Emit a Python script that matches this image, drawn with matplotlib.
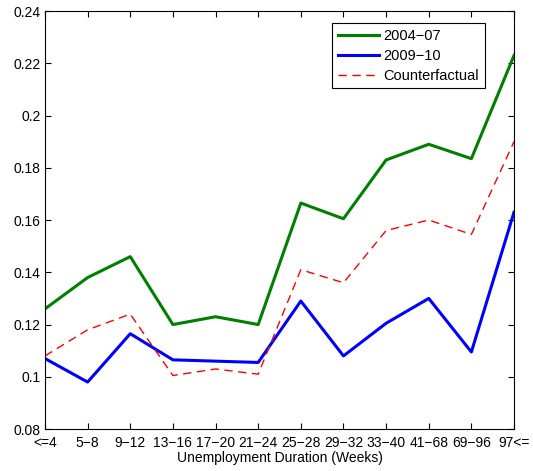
import matplotlib
matplotlib.use('Agg')
import matplotlib.pyplot as plt

plt.rcParams['font.family'] = ['Liberation Sans', 'DejaVu Sans']

# duration bins
labels = ['<=4', '5\u22128', '9\u221212', '13\u221216', '17\u221220', '21\u221224',
          '25\u221228', '29\u221232', '33\u221240', '41\u221268', '69\u221296', '97<=']

# hazard rates
pre = [0.126, 0.138, 0.146, 0.120, 0.123, 0.120, 0.1665, 0.1605, 0.183, 0.189, 0.1835, 0.223]
post = [0.107, 0.098, 0.1165, 0.1065, 0.106, 0.1055, 0.129, 0.108, 0.1205, 0.130, 0.1095, 0.163]
counter = [0.108, 0.118, 0.124, 0.1005, 0.103, 0.101, 0.141, 0.136, 0.156, 0.160, 0.1545, 0.190]

x = list(range(1, len(labels) + 1))

fig = plt.figure(figsize=(5.33, 4.71), dpi=100)
ax = fig.add_axes([0.0844, 0.089, 0.88, 0.8876])

ax.plot(x, pre, color='#007f00', lw=2.2, label='2004\u221207')
ax.plot(x, post, color='#0000ff', lw=2.2, label='2009\u221210')
ax.plot(x, counter, color='#ff0000', lw=1.0, dashes=(6, 4), label='Counterfactual')

ax.set_xlim(1, 12)
ax.set_ylim(0.08, 0.24)
ax.set_xticks(x)
ax.set_xticklabels(labels)
ax.set_yticks([0.08, 0.1, 0.12, 0.14, 0.16, 0.18, 0.2, 0.22, 0.24])
ax.set_yticklabels(['0.08', '0.1', '0.12', '0.14', '0.16', '0.18', '0.2', '0.22', '0.24'])
ax.tick_params(direction='in', top=True, right=True, labelsize=10, length=4, width=0.8, pad=3)
ax.tick_params(axis='x', pad=5)
for s in ax.spines.values():
    s.set_linewidth(0.8)

ax.set_xlabel('Unemployment Duration (Weeks)', fontsize=10, labelpad=1)

leg = ax.legend(loc='upper right', bbox_to_anchor=(0.938, 0.971), borderaxespad=0,
                fontsize=10.5, fancybox=False, framealpha=1, edgecolor='black',
                handlelength=2.8, borderpad=0.4, labelspacing=0.4, handletextpad=0.3)
leg.get_frame().set_linewidth(0.8)

fig.savefig('out.png', dpi=100)
